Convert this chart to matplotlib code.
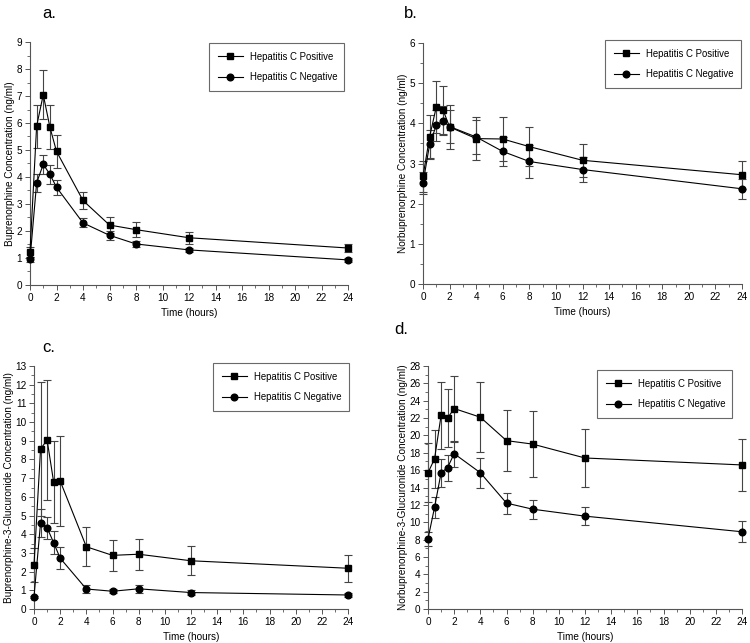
import matplotlib
matplotlib.use("Agg")
import matplotlib.pyplot as plt
from matplotlib.ticker import MultipleLocator

plt.rcParams['font.family'] = ['Liberation Sans', 'DejaVu Sans']

# sampling times (hours)
tiempos = [0, 0.5, 1, 1.5, 2, 4, 6, 8, 12, 24]

# a. buprenorfina
bup_pos = [1.22, 5.88, 7.05, 5.85, 4.95, 3.13, 2.22, 2.05, 1.75, 1.37]
bup_pos_err = [0.2, 0.8, 0.9, 0.8, 0.62, 0.32, 0.31, 0.27, 0.23, 0.16]
bup_neg = [0.95, 3.78, 4.47, 4.1, 3.62, 2.3, 1.84, 1.52, 1.3, 0.93]
bup_neg_err = [0.08, 0.33, 0.35, 0.35, 0.28, 0.17, 0.16, 0.1, 0.08, 0.07]

# b. norbuprenorfina
nor_pos = [2.68, 3.67, 4.41, 4.34, 3.91, 3.62, 3.61, 3.42, 3.08, 2.72]
nor_pos_err = [0.38, 0.53, 0.64, 0.6, 0.54, 0.53, 0.56, 0.48, 0.41, 0.35]
nor_neg = [2.51, 3.48, 3.95, 4.06, 3.92, 3.66, 3.3, 3.05, 2.85, 2.37]
nor_neg_err = [0.27, 0.36, 0.38, 0.36, 0.42, 0.42, 0.37, 0.4, 0.32, 0.25]

# c. buprenorfina-3-glucuronido
b3g_pos = [2.35, 8.55, 9.05, 6.8, 6.85, 3.33, 2.87, 2.93, 2.58, 2.18]
b3g_pos_err = [0.9, 3.6, 3.2, 2.2, 2.4, 1.05, 0.82, 0.82, 0.77, 0.72]
b3g_neg = [0.65, 4.6, 4.35, 3.55, 2.72, 1.07, 0.95, 1.08, 0.88, 0.75]
b3g_neg_err = [0.05, 0.75, 0.58, 0.6, 0.58, 0.22, 0.12, 0.2, 0.12, 0.1]

# d. norbuprenorfina-3-glucuronido
n3g_pos = [15.7, 17.3, 22.3, 22.0, 23.1, 22.1, 19.4, 19.0, 17.4, 16.6]
n3g_pos_err = [3.4, 3.3, 3.9, 3.3, 3.8, 4.0, 3.5, 3.8, 3.3, 3.0]
n3g_neg = [8.1, 11.7, 15.7, 16.3, 17.9, 15.7, 12.2, 11.5, 10.7, 8.9]
n3g_neg_err = [0.8, 1.2, 1.6, 1.5, 1.5, 1.7, 1.2, 1.1, 1.0, 1.2]

rotulos = ["Hepatitis C Positive", "Hepatitis C Negative"]

W, H = 750, 643
fig = plt.figure(figsize=(W / 100, H / 100), dpi=100)


def eixo(x0, y0, x1, y1):
    # pixel box -> figure coords
    return fig.add_axes([x0 / W, 1 - y1 / H, (x1 - x0) / W, (y1 - y0) / H])


def painel(ax, pos, pos_err, neg, neg_err, ymax, passo, menor, ylabel,
           letra, letra_xy, leg_box):
    for y, e, m, r in [(pos, pos_err, 's', rotulos[0]),
                       (neg, neg_err, 'o', rotulos[1])]:
        ax.errorbar(tiempos, y, yerr=e, fmt='none', ecolor='#444444',
                    elinewidth=0.8, capsize=2.6, capthick=0.8,
                    clip_on=False, zorder=2)
        ax.plot(tiempos, y, color='black', marker=m, markersize=4.8,
                linewidth=0.8, label=r, clip_on=False, zorder=3)
    ax.set_xlim(0, 24)
    ax.set_ylim(0, ymax)
    ax.xaxis.set_major_locator(MultipleLocator(2))
    ax.xaxis.set_minor_locator(MultipleLocator(1))
    ax.yaxis.set_major_locator(MultipleLocator(passo))
    ax.yaxis.set_minor_locator(MultipleLocator(menor))
    for lado in ['top', 'right']:
        ax.spines[lado].set_visible(False)
    for lado in ['left', 'bottom']:
        ax.spines[lado].set_color('#555555')
        ax.spines[lado].set_linewidth(0.8)
    ax.tick_params(which='major', length=3.5, width=0.7, color='#555555',
                   labelsize=7.2, pad=2)
    ax.tick_params(which='minor', length=2, width=0.6, color='#555555')
    ax.set_xlabel("Time (hours)", fontsize=7.2, labelpad=4)
    ax.set_ylabel(ylabel, fontsize=7.2, labelpad=1)
    fig.text(letra_xy[0] / W, 1 - letra_xy[1] / H, letra, fontsize=12,
             ha='left', va='center')
    lx0, ly0, lx1, ly1 = leg_box
    leg = ax.legend(loc='upper left', fontsize=6.9, frameon=True,
                    fancybox=False, edgecolor='#444444', handlelength=2.6,
                    borderpad=0.9, labelspacing=1.1, handletextpad=0.8,
                    borderaxespad=0,
                    bbox_to_anchor=(lx0 / W, 1 - ly1 / H, (lx1 - lx0) / W,
                                    (ly1 - ly0) / H),
                    bbox_transform=fig.transFigure, mode='expand')
    leg.get_frame().set_linewidth(0.8)


ax_a = eixo(30, 42, 348, 285)
painel(ax_a, bup_pos, bup_pos_err, bup_neg, bup_neg_err, 9, 1, 0.5,
       "Buprenorphine Concentration (ng/ml)", "a.", (42, 14),
       (209, 43, 344, 87))

ax_b = eixo(423, 43, 742, 284)
painel(ax_b, nor_pos, nor_pos_err, nor_neg, nor_neg_err, 6, 1, 0.5,
       "Norbuprenorphine Concentration (ng/ml)", "b.", (404, 14),
       (605, 40, 741, 83))

ax_c = eixo(34, 366, 348, 609)
painel(ax_c, b3g_pos, b3g_pos_err, b3g_neg, b3g_neg_err, 13, 1, 0.5,
       "Buprenorphine-3-Glucuronide Concentration (ng/ml)", "c.", (42, 348),
       (213, 363, 349, 407))

ax_d = eixo(428, 366, 742, 609)
painel(ax_d, n3g_pos, n3g_pos_err, n3g_neg, n3g_neg_err, 28, 2, 1,
       "Norbuprenorphine-3-Glucuronide Concentration (ng/ml)", "d.",
       (394, 330), (597, 370, 732, 414))

fig.savefig("out.png", dpi=100)
